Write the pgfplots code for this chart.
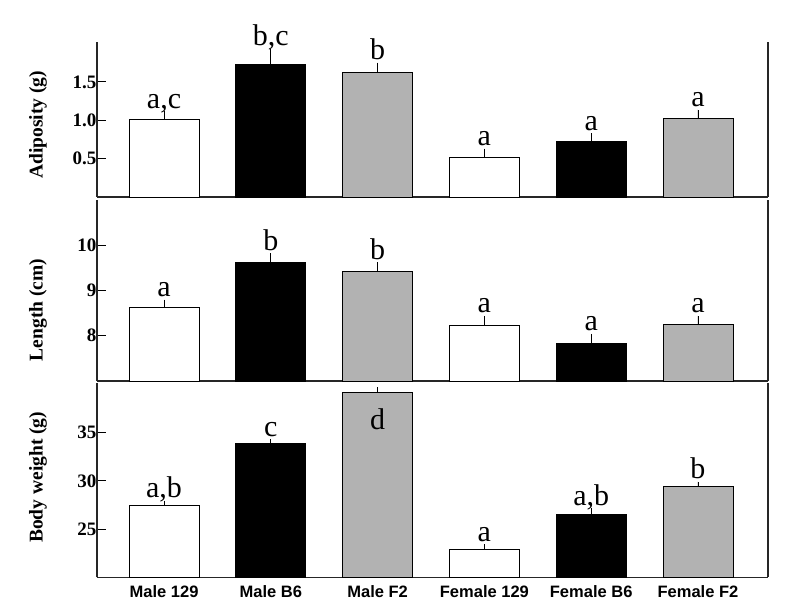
\documentclass[border=0pt]{standalone}
\usepackage{pgfplots}
\pgfplotsset{compat=1.18}
\usepackage{fontspec}
\setmainfont{Liberation Serif}
\newfontfamily\arialbf{Liberation Sans}
\usepackage{pgfplotstable}

\pgfplotstableread{
x y e
0 1.01 0.11
1 1.73 0.20
2 1.63 0.12
3 0.52 0.11
4 0.73 0.10
5 1.03 0.11
}\adipo
\pgfplotstableread{
x y e
0 8.62 0.18
1 9.62 0.20
2 9.43 0.19
3 8.23 0.21
4 7.84 0.20
5 8.24 0.20
}\lengthtab
\pgfplotstableread{
x y e
0 27.42 0.52
1 33.83 0.47
2 39.20 0.50
3 22.90 0.52
4 26.56 0.59
5 29.39 0.51
}\weight

\tikzset{lbl/.style={anchor=base, font=\fontsize{30}{30}\selectfont, yshift=3pt, inner sep=0pt}}

\pgfplotsset{
  panel/.style={
    scale only axis,
    width=671pt,
    xmin=-0.628, xmax=5.656,
    axis x line*=bottom,
    axis y line*=box,
    axis line style={-, line width=1.1pt, black!85},
    ytick pos=left,
    xtick=\empty,
    tick align=inside,
    major tick length=9pt,
    tick style={line width=1pt, black},
    yticklabel style={font=\fontsize{19}{19}\selectfont\bfseries, xshift=3pt},
    /pgf/number format/assume math mode=true,
    every axis y label/.style={rotate=90, anchor=center, font=\fontsize{19.5}{19.5}\selectfont\bfseries},
    clip=false,
  },
  bars/.style={ybar, bar width=70pt, bar shift=0pt, draw=black, line width=0.8pt,
    error bars/y dir=plus, error bars/y explicit, error bars/error mark=none,
    error bars/error bar style={line width=0.9pt, black}},
}

\begin{document}
\begin{tikzpicture}
\path[use as bounding box] (0pt,0pt) rectangle (788pt,604pt);

% Top panel: Adiposity
\begin{axis}[panel, at={(97pt,407pt)}, anchor=south west, height=155pt,
  ymin=0, ymax=2.02,
  ytick={0.5,1.0,1.5},
  yticklabel style={/pgf/number format/.cd, fixed, fixed zerofill, precision=1},
  ylabel={Adiposity (g)},
  every axis y label/.append style={at={(axis description cs:-0.088,0.465)}},
]
\addplot[bars, fill=white] table[x=x, y=y, y error=e, restrict expr to domain={\thisrow{x}}{0:0}] {\adipo};
\addplot[bars, fill=black] table[x=x, y=y, y error=e, restrict expr to domain={\thisrow{x}}{1:1}] {\adipo};
\addplot[bars, fill=black!30] table[x=x, y=y, y error=e, restrict expr to domain={\thisrow{x}}{2:2}] {\adipo};
\addplot[bars, fill=white] table[x=x, y=y, y error=e, restrict expr to domain={\thisrow{x}}{3:3}] {\adipo};
\addplot[bars, fill=black] table[x=x, y=y, y error=e, restrict expr to domain={\thisrow{x}}{4:4}] {\adipo};
\addplot[bars, fill=black!30] table[x=x, y=y, y error=e, restrict expr to domain={\thisrow{x}}{5:5}] {\adipo};
\node[lbl] at (axis cs:0,1.12) {a,c};
\node[lbl] at (axis cs:1,1.93) {b,c};
\node[lbl] at (axis cs:2,1.75) {b};
\node[lbl] at (axis cs:3,0.63) {a};
\node[lbl] at (axis cs:4,0.83) {a};
\node[lbl] at (axis cs:5,1.14) {a};
\end{axis}

% Middle panel: Length
\begin{axis}[panel, at={(97pt,223pt)}, anchor=south west, height=181pt,
  ymin=7, ymax=11,
  ytick={8,9,10},
  ylabel={Length (cm)},
  every axis y label/.append style={at={(axis description cs:-0.088,0.392)}},
]
\addplot[bars, fill=white] table[x=x, y=y, y error=e, restrict expr to domain={\thisrow{x}}{0:0}] {\lengthtab};
\addplot[bars, fill=black] table[x=x, y=y, y error=e, restrict expr to domain={\thisrow{x}}{1:1}] {\lengthtab};
\addplot[bars, fill=black!30] table[x=x, y=y, y error=e, restrict expr to domain={\thisrow{x}}{2:2}] {\lengthtab};
\addplot[bars, fill=white] table[x=x, y=y, y error=e, restrict expr to domain={\thisrow{x}}{3:3}] {\lengthtab};
\addplot[bars, fill=black] table[x=x, y=y, y error=e, restrict expr to domain={\thisrow{x}}{4:4}] {\lengthtab};
\addplot[bars, fill=black!30] table[x=x, y=y, y error=e, restrict expr to domain={\thisrow{x}}{5:5}] {\lengthtab};
\node[lbl] at (axis cs:0,8.80) {a};
\node[lbl] at (axis cs:1,9.82) {b};
\node[lbl] at (axis cs:2,9.62) {b};
\node[lbl] at (axis cs:3,8.44) {a};
\node[lbl] at (axis cs:4,8.04) {a};
\node[lbl] at (axis cs:5,8.44) {a};
\end{axis}

% Bottom panel: Body weight
\begin{axis}[panel, at={(97pt,26.7pt)}, anchor=south west, height=194pt,
  ymin=20, ymax=40.1,
  ytick={25,30,35},
  ylabel={Body weight (g)},
  every axis y label/.append style={at={(axis description cs:-0.088,0.515)}},
  xtick={0,1,2,3,4,5},
  xticklabels={Male 129, Male B6, Male F2, Female 129, Female B6, Female F2},
  x tick style={draw=none},
  xticklabel style={font=\arialbf\fontsize{16.5}{16.5}\selectfont\bfseries, anchor=base, yshift=-20pt},
]
\addplot[bars, fill=white] table[x=x, y=y, y error=e, restrict expr to domain={\thisrow{x}}{0:0}] {\weight};
\addplot[bars, fill=black] table[x=x, y=y, y error=e, restrict expr to domain={\thisrow{x}}{1:1}] {\weight};
\addplot[bars, fill=black!30] table[x=x, y=y, y error=e, restrict expr to domain={\thisrow{x}}{2:2}] {\weight};
\addplot[bars, fill=white] table[x=x, y=y, y error=e, restrict expr to domain={\thisrow{x}}{3:3}] {\weight};
\addplot[bars, fill=black] table[x=x, y=y, y error=e, restrict expr to domain={\thisrow{x}}{4:4}] {\weight};
\addplot[bars, fill=black!30] table[x=x, y=y, y error=e, restrict expr to domain={\thisrow{x}}{5:5}] {\weight};
\node[lbl] at (axis cs:0,27.94) {a,b};
\node[lbl] at (axis cs:1,34.30) {c};
\node[lbl, yshift=0pt] at (axis cs:2,35.0) {d};
\node[lbl] at (axis cs:3,23.42) {a};
\node[lbl] at (axis cs:4,27.15) {a,b};
\node[lbl] at (axis cs:5,29.90) {b};
\end{axis}
\end{tikzpicture}
\end{document}
